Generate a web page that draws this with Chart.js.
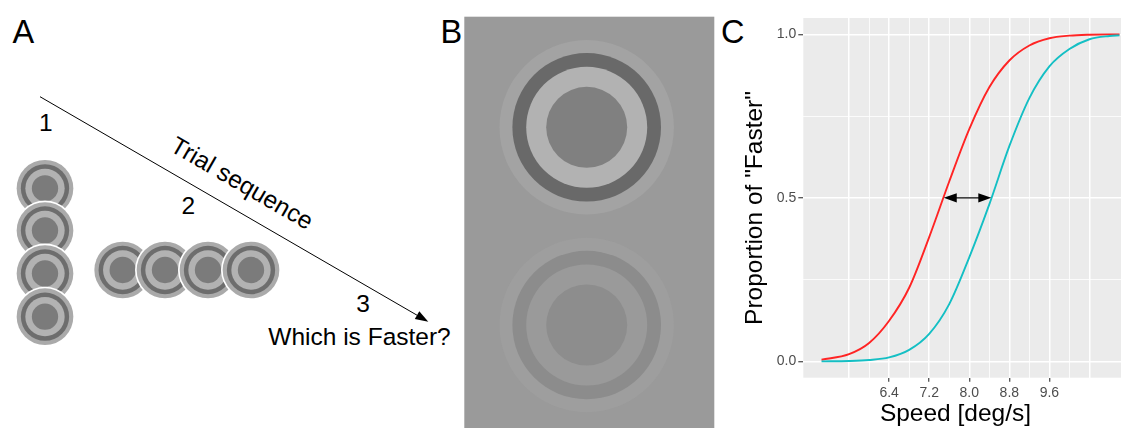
<!DOCTYPE html>
<html><head><meta charset="utf-8">
<script src="https://cdn.jsdelivr.net/npm/chart.js@4"></script>
<style>
html,body{margin:0;padding:0;background:#fff;width:1121px;height:428px;overflow:hidden;}
#fig{position:absolute;left:0;top:0;}
#wrap{position:absolute;left:720px;top:0;width:401px;height:428px;}
svg text{font-family:"Liberation Sans",Arial,sans-serif;fill:#000;}
</style></head><body>
<svg id="fig" width="1121" height="428" xmlns="http://www.w3.org/2000/svg"></svg>
<div id="wrap"><canvas id="c" width="401" height="428"></canvas></div>
<script>
// ---- Panel C data ----
const speeds    = [5.05, 5.6, 6.0, 6.4, 6.8, 7.2, 7.6, 8.0, 8.4, 8.8, 9.2, 9.6, 10.0, 10.4, 10.8, 11.0];
const propRed   = [0.005, 0.022, 0.056, 0.124, 0.225, 0.38, 0.55, 0.71, 0.838, 0.92, 0.966, 0.988, 0.996, 0.999, 1.0, 1.0];
const propCyan  = [0.0, 0.001, 0.004, 0.012, 0.035, 0.084, 0.175, 0.318, 0.48, 0.658, 0.805, 0.902, 0.955, 0.985, 0.995, 0.997];
const xTicks      = [5.6, 6.0, 6.4, 6.8, 7.2, 7.6, 8.0, 8.4, 8.8, 9.2, 9.6, 10.0, 10.4];
const xTickLabels = ['', '', '6.4', '', '7.2', '', '8.0', '', '8.8', '', '9.6', '', ''];
const yTicks      = [0, 0.25, 0.5, 0.75, 1.0];
const yTickLabels = ['0.0', '', '0.5', '', '1.0'];
const arrowSpeeds = [7.49, 8.44];
const arrowLevel  = 0.5;
const xTitle = 'Speed [deg/s]';
const yTitle = 'Proportion of "Faster"';

// ---- Panels A and B (illustration) ----
const NS = 'http://www.w3.org/2000/svg';
const svg = document.getElementById('fig');
function el(tag, attrs, text){ const e=document.createElementNS(NS,tag); for(const k in attrs) e.setAttribute(k,attrs[k]); if(text!==undefined) e.textContent=text; svg.appendChild(e); return e; }
const ringRadii = [87.2, 74.3, 60.5, 40.5];
function ring(cx, cy, s, cols, outline){
  if(outline) el('circle',{cx,cy,r:ringRadii[0]*s+1.6,fill:'#ffffff'});
  ringRadii.forEach((r,i)=>el('circle',{cx,cy,r:r*s,fill:cols[i]}));
}
// Panel B
el('rect',{x:464.3,y:16.7,width:250,height:420,fill:'#9a9a9a'});
ring(586.7,127.3,1,['#a3a3a3','#696969','#b2b2b2','#808080'],false);
ring(586.7,325,1,['#9e9e9e','#8c8c8c','#9a9a9a','#8d8d8d'],false);
// Panel A stimuli
const aCols = ['#aaaaaa','#6d6d6d','#b2b2b2','#7b7b7b'];
const colY = [188.3, 230.5, 273.5, 316.7];
colY.forEach(y=>ring(45,y,0.325,aCols,true));
const rowX = [122.7, 165, 208, 251];
rowX.forEach(x=>ring(x,270,0.325,aCols,true));
// Arrow of trial sequence
el('line',{x1:40,y1:96.7,x2:417,y2:315.2,stroke:'#000','stroke-width':1});
el('polygon',{points:'428.3,321.7 414.8,319.1 419.3,311.3',fill:'#000'});
el('text',{transform:'translate(237.9,190.2) rotate(30.09)','text-anchor':'middle','font-size':'24.5'},'Trial sequence');
el('text',{x:45.8,y:130.7,'text-anchor':'middle','font-size':'24.5'},'1');
el('text',{x:188.3,y:214,'text-anchor':'middle','font-size':'24.5'},'2');
el('text',{x:363,y:312.3,'text-anchor':'middle','font-size':'24.5'},'3');
el('text',{x:268.3,y:345,'font-size':'24.5'},'Which is Faster?');
el('text',{x:12.5,y:43.3,'font-size':'32.5'},'A');
el('text',{x:440.5,y:43.3,'font-size':'32.5'},'B');
el('text',{x:721,y:43.3,'font-size':'32.5'},'C');

// ---- Chart ----
const bgPlugin = {id:'panelBg', beforeDraw(chart){ const {ctx, chartArea:a}=chart; ctx.save(); ctx.fillStyle='#ebebeb'; ctx.fillRect(a.left,a.top,a.right-a.left,a.bottom-a.top); ctx.restore(); }};
const arrowPlugin = {id:'diffArrow', afterDatasetsDraw(chart){
  const {ctx}=chart; const xs=chart.scales.x, ys=chart.scales.y;
  const x1=xs.getPixelForValue(arrowSpeeds[0]), x2=xs.getPixelForValue(arrowSpeeds[1]), y=ys.getPixelForValue(arrowLevel);
  const L=13, H=4.6;
  ctx.save();
  ctx.strokeStyle='#3a3a3a'; ctx.lineWidth=1.6;
  ctx.beginPath(); ctx.moveTo(x1+L-2,y); ctx.lineTo(x2-L+2,y); ctx.stroke();
  ctx.fillStyle='#000';
  ctx.beginPath(); ctx.moveTo(x1,y); ctx.lineTo(x1+L,y-H); ctx.lineTo(x1+L,y+H); ctx.closePath(); ctx.fill();
  ctx.beginPath(); ctx.moveTo(x2,y); ctx.lineTo(x2-L,y-H); ctx.lineTo(x2-L,y+H); ctx.closePath(); ctx.fill();
  ctx.restore();
}};
const titlePlugin = {id:'axisTitles', afterDraw(chart){
  const {ctx, chartArea:a}=chart;
  ctx.save(); ctx.fillStyle='#000'; ctx.font='24.5px "Liberation Sans", Arial, sans-serif';
  ctx.textAlign='center'; ctx.textBaseline='alphabetic';
  ctx.fillText(xTitle, a.left+152.2, a.bottom+43);
  ctx.translate(a.left-41, a.top+190); ctx.rotate(-Math.PI/2);
  ctx.fillText(yTitle, 0, 0);
  ctx.restore();
}};
const tickFont = {family:'"Liberation Sans", Arial, sans-serif', size:14};
new Chart(document.getElementById('c'), {
  type:'line',
  data:{datasets:[
    {label:'red', data:speeds.map((s,i)=>({x:s,y:propRed[i]})), borderColor:'#ff2424', borderWidth:1.9, pointRadius:0, cubicInterpolationMode:'monotone', fill:false, order:2},
    {label:'cyan', data:speeds.map((s,i)=>({x:s,y:propCyan[i]})), borderColor:'#14bfc4', borderWidth:1.9, pointRadius:0, cubicInterpolationMode:'monotone', fill:false, order:1}
  ]},
  options:{
    responsive:false, devicePixelRatio:1, animation:false,
    layout:{padding:{top:18,right:0,left:0,bottom:0}},
    plugins:{legend:{display:false}, tooltip:{enabled:false}},
    scales:{
      x:{type:'linear', min:4.686, max:11.03,
        afterBuildTicks:s=>{ s.ticks = xTicks.map(v=>({value:v})); },
        afterFit:s=>{ s.height=50.3; },
        ticks:{autoSkip:false, maxRotation:0, padding:3, color:'#4d4d4d', font:tickFont, callback:(v,i)=>xTickLabels[i]},
        grid:{color:'#ffffff', lineWidth:c=>(c.index%2===0?1.5:0.8), tickLength:4, tickWidth:1.1, tickColor:c=>(xTickLabels[c.index]?'#333333':'rgba(0,0,0,0)')},
        border:{display:false}},
      y:{type:'linear', min:-0.05, max:1.05,
        afterBuildTicks:s=>{ s.ticks = yTicks.map(v=>({value:v})); },
        afterFit:s=>{ s.width=83.3; },
        ticks:{padding:2, color:'#4d4d4d', font:tickFont, callback:(v,i)=>yTickLabels[i]},
        grid:{color:'#ffffff', lineWidth:c=>(c.index%2===0?1.5:0.8), tickLength:5, tickWidth:1.1, tickColor:c=>(yTickLabels[c.index]?'#333333':'rgba(0,0,0,0)')},
        border:{display:false}}
    }
  },
  plugins:[bgPlugin, arrowPlugin, titlePlugin]
});
</script></body></html>
